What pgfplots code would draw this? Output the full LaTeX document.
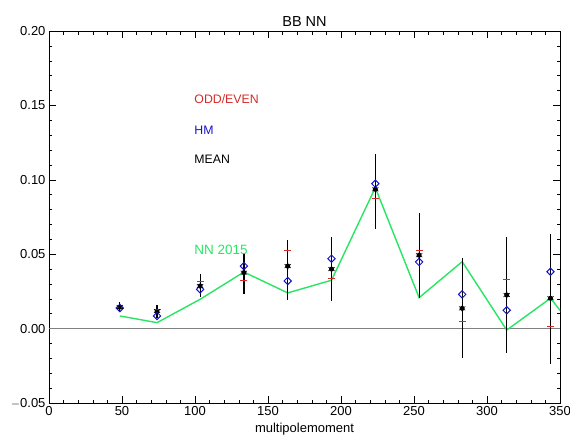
\documentclass[border=0pt]{standalone}
\usepackage{pgfplots}
\pgfplotsset{compat=1.18}
\usepackage{fontspec}
\setmainfont{Liberation Sans}
\definecolor{oddred}{RGB}{215,40,40}
\definecolor{hmblue}{RGB}{20,20,205}
\definecolor{nngreen}{RGB}{40,230,100}
\begin{document}
\begin{tikzpicture}
\begin{axis}[name=ax, at={(0,0)}, anchor=south west,
  scale only axis, width=511pt, height=372pt,
  xmin=0, xmax=350, ymin=-0.05, ymax=0.20,
  xtick={0,50,...,350}, minor x tick num=4,
  ytick={-0.05,0,0.05,0.10,0.15,0.20}, minor y tick num=4,
  yticklabels={$-$0.05,0.00,0.05,0.10,0.15,0.20},
  xticklabels={0,50,100,150,200,250,300,350},
  tick align=inside, major tick length=7pt, minor tick length=3.5pt,
  tick style={black, line width=0.5pt},
  every tick label/.append style={font=\fontsize{13}{15}\selectfont},
  title={BB NN}, title style={font=\fontsize{14.5}{16}\selectfont, yshift=-5pt},
  xlabel={multipolemoment}, xlabel style={font=\fontsize{13}{15}\selectfont, yshift=0pt},
  axis line style={black, line width=0.6pt},
  clip=true,
]
\addplot[gray, line width=1.6pt, forget plot] coordinates {(0,0) (350,0)};
\addplot[nngreen, line width=1.4pt] coordinates {
(48.5,0.0085) (74,0.004) (103.5,0.0197) (133.5,0.038) (163.5,0.024) (193.5,0.0325)
(223.5,0.0947) (253.5,0.0208) (283,0.045) (313.5,-0.001) (343.5,0.0204) (373.5,-0.017)};
\addplot[black, line width=1pt, only marks, mark=none,
  error bars/.cd, y dir=both, y explicit, error mark=none,
  error bar style={line width=1.2pt}] coordinates {
(48.5,0.0145) += (0,0.0035) -= (0,0.0035)
(74,0.0118) += (0,0.004) -= (0,0.0045)
(103.5,0.0286) += (0,0.0084) -= (0,0.0076)
(133.5,0.0376) += (0,0.0134) -= (0,0.0146)
(163.5,0.042) += (0,0.0175) -= (0,0.023)
(193.5,0.040) += (0,0.0216) -= (0,0.0214)
(223.5,0.0936) += (0,0.0239) -= (0,0.0269)
(253.5,0.0493) += (0,0.0287) -= (0,0.0285)
(283,0.0136) += (0,0.0341) -= (0,0.0336)
(313.5,0.0226) += (0,0.039) -= (0,0.0388)
(343.5,0.0204) += (0,0.0434) -= (0,0.044)
};
\addplot[oddred, only marks, mark=-, mark size=3.5pt, mark options={line width=1pt}] coordinates {
(48.5,0.014) (74,0.013) (103.5,0.0315) (133.5,0.032) (163.5,0.0526) (193.5,0.0336)
(223.5,0.0876) (253.5,0.0528) (283,0.0046) (313.5,0.0331) (343.5,0.0013)};
\addplot[hmblue, only marks, mark=square, mark size=2.6pt, mark options={line width=1pt, rotate=45}] coordinates {
(48.5,0.0138) (74,0.0085) (103.5,0.0264) (133.5,0.042) (163.5,0.032) (193.5,0.047)
(223.5,0.0974) (253.5,0.0448) (283,0.023) (313.5,0.0123) (343.5,0.0382)};
\addplot[black, only marks, mark=asterisk, mark size=3.6pt, mark options={line width=0.6pt}] coordinates {
(48.5,0.0145) (74,0.0118) (103.5,0.0286) (133.5,0.0376) (163.5,0.042) (193.5,0.040)
(223.5,0.0936) (253.5,0.0493) (283,0.0136) (313.5,0.0226) (343.5,0.0204)};
\node[anchor=west, text=oddred, font=\fontsize{12.3}{14}\selectfont, inner sep=0pt] at (axis cs:99.5,0.1543) {ODD/EVEN};
\node[anchor=west, text=hmblue, font=\fontsize{12.3}{14}\selectfont, inner sep=0pt] at (axis cs:99.5,0.1334) {HM};
\node[anchor=west, text=black, font=\fontsize{12.3}{14}\selectfont, inner sep=0pt] at (axis cs:99.5,0.1135) {MEAN};
\node[anchor=west, text=nngreen, font=\fontsize{13.5}{15}\selectfont, inner sep=0pt] at (axis cs:99.5,0.053) {NN 2015};
\end{axis}
\pgfresetboundingbox
\path[use as bounding box] ([xshift=-49pt,yshift=-42pt]ax.south west) rectangle ([xshift=10pt,yshift=31pt]ax.north east);
\end{tikzpicture}
\end{document}
